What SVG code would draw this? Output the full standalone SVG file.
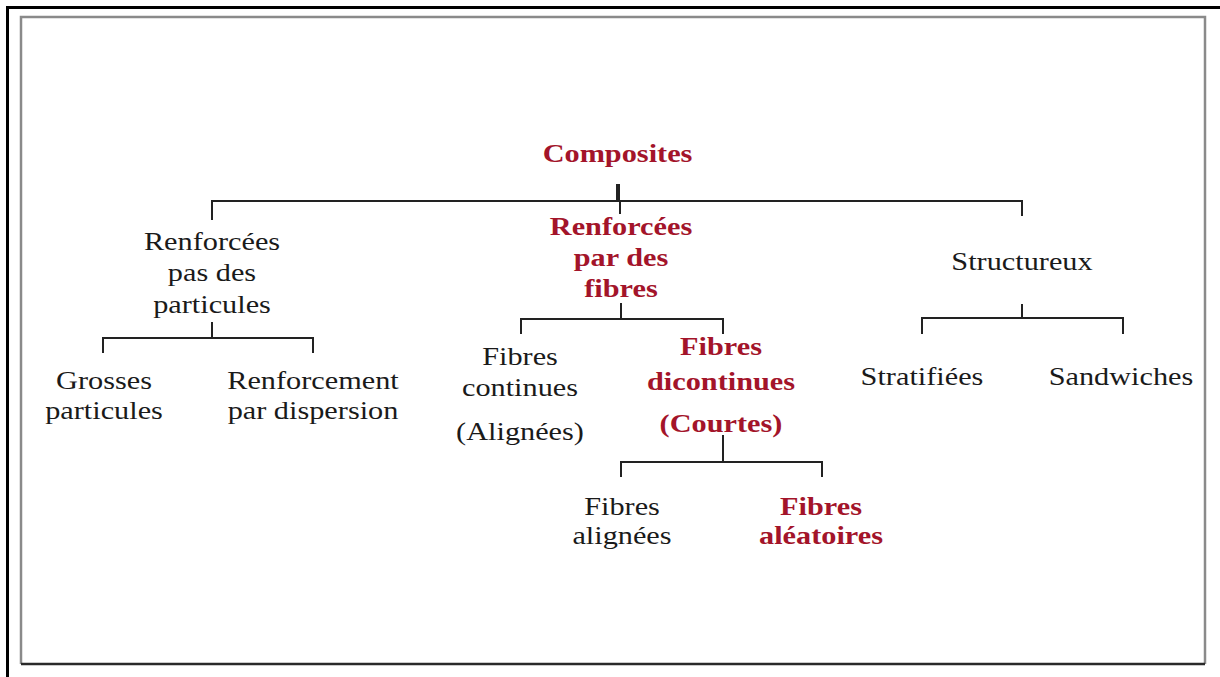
<svg xmlns="http://www.w3.org/2000/svg" width="1220" height="677" viewBox="0 0 1220 677">
  <style>
    .t { font-family: "Liberation Serif", "Times New Roman", serif; font-size: 26px; text-anchor: middle; fill: #1a1a1a; }
    .r { font-weight: bold; fill: #a3142a; }
    .ln { fill: none; stroke: #222; stroke-width: 2; stroke-linecap: square; }
    .stub { stroke-width: 4; stroke-linecap: butt; }
  </style>

  <rect width="1220" height="677" fill="#ffffff"/>

  <!-- page frame -->
  <g id="frame">
    <path d="M7.5 677 V7.5 H1220" fill="none" stroke="#000" stroke-width="3"/>
    <path d="M21 664 V17 H1205 V664" fill="none" stroke="#8a8a8a" stroke-width="2.5"/>
    <path d="M21 664 H1205" fill="none" stroke="#2a2a2a" stroke-width="2.5"/>
  </g>

  <!-- tree connectors -->
  <g id="connectors">
    <path class="ln stub" d="M618 184 V201"/>
    <path class="ln" d="M212 219 V201 H1022 V215"/>
    <path class="ln" d="M620 201 V213"/>
    <path class="ln" d="M212 323 V338"/>
    <path class="ln" d="M103 352 V338 H313 V352"/>
    <path class="ln" d="M621 304 V319"/>
    <path class="ln" d="M521 333 V319 H723 V333"/>
    <path class="ln" d="M723 436 V462"/>
    <path class="ln" d="M621 476 V462 H822 V476"/>
    <path class="ln" d="M1022 305 V318"/>
    <path class="ln" d="M922 333 V318 H1123 V333"/>
  </g>

  <g id="composites" transform="translate(617.5 0) scale(1.165 1)">
    <text class="t r" x="0" y="162">Composites</text>
  </g>

  <g id="particules" transform="translate(212 0) scale(1.165 1)">
    <text class="t" x="0" y="250">Renforcées</text>
    <text class="t" x="0" y="281">pas des</text>
    <text class="t" x="0" y="313">particules</text>
  </g>

  <g id="grosses" transform="translate(104 0) scale(1.165 1)">
    <text class="t" x="0" y="389">Grosses</text>
    <text class="t" x="0" y="419">particules</text>
  </g>

  <g id="dispersion" transform="translate(313 0) scale(1.165 1)">
    <text class="t" x="0" y="389">Renforcement</text>
    <text class="t" x="0" y="419">par dispersion</text>
  </g>

  <g id="fibres" transform="translate(621 0) scale(1.165 1)">
    <text class="t r" x="0" y="235">Renforcées</text>
    <text class="t r" x="0" y="266">par des</text>
    <text class="t r" x="0" y="297">fibres</text>
  </g>

  <g id="continues" transform="translate(520 0) scale(1.165 1)">
    <text class="t" x="0" y="365">Fibres</text>
    <text class="t" x="0" y="396">continues</text>
    <text class="t" x="0" y="440">(Alignées)</text>
  </g>

  <g id="discontinues" transform="translate(721 0) scale(1.165 1)">
    <text class="t r" x="0" y="355">Fibres</text>
    <text class="t r" x="0" y="390">dicontinues</text>
    <text class="t r" x="0" y="432">(Courtes)</text>
  </g>

  <g id="alignees" transform="translate(622 0) scale(1.165 1)">
    <text class="t" x="0" y="515">Fibres</text>
    <text class="t" x="0" y="544">alignées</text>
  </g>

  <g id="aleatoires" transform="translate(821 0) scale(1.165 1)">
    <text class="t r" x="0" y="515">Fibres</text>
    <text class="t r" x="0" y="544">aléatoires</text>
  </g>

  <g id="structureux" transform="translate(1022 0) scale(1.165 1)">
    <text class="t" x="0" y="270">Structureux</text>
  </g>

  <g id="stratifiees" transform="translate(922 0) scale(1.165 1)">
    <text class="t" x="0" y="385">Stratifiées</text>
  </g>

  <g id="sandwiches" transform="translate(1121 0) scale(1.165 1)">
    <text class="t" x="0" y="385">Sandwiches</text>
  </g>
</svg>
